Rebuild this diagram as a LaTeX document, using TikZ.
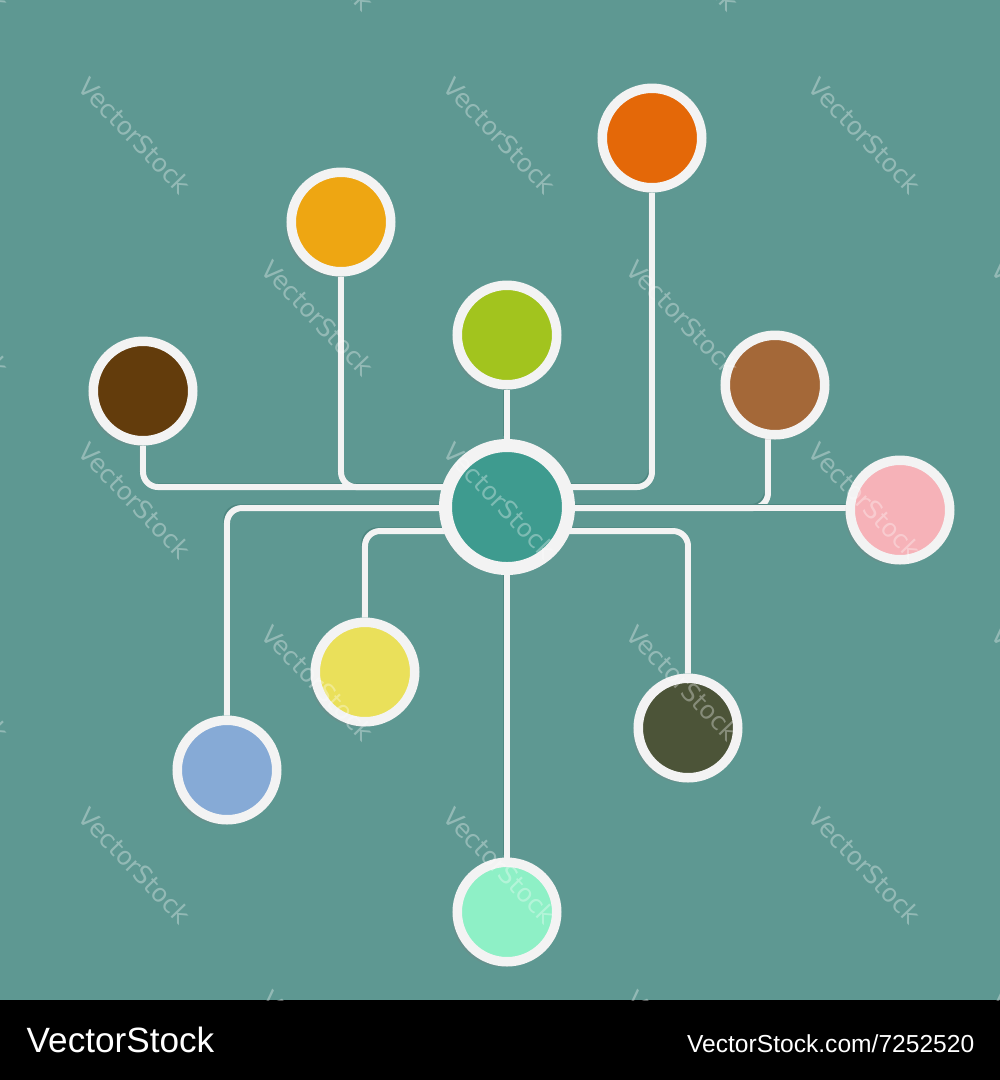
\documentclass[tikz,border=0pt]{standalone}
\usepackage{fontspec}
\setmainfont{Liberation Sans}
\newfontfamily\stampfont{DejaVu Sans}
\usetikzlibrary{shadows}

\newlength{\du}
\setlength{\du}{0.1mm}

\definecolor{bgteal}{RGB}{94,152,146}
\definecolor{wireshade}{RGB}{78,134,128}
\definecolor{ringwhite}{RGB}{243,243,243}
\definecolor{cHub}{RGB}{62,155,143}
\definecolor{cDarkbrown}{RGB}{99,60,12}
\definecolor{cAmber}{RGB}{238,166,18}
\definecolor{cOrange}{RGB}{228,104,8}
\definecolor{cLime}{RGB}{162,196,30}
\definecolor{cBrown}{RGB}{164,104,56}
\definecolor{cPink}{RGB}{246,178,184}
\definecolor{cYellow}{RGB}{234,224,90}
\definecolor{cBlue}{RGB}{134,170,214}
\definecolor{cOlive}{RGB}{76,84,56}
\definecolor{cMint}{RGB}{142,240,198}

\pgfdeclarelayer{bg}
\pgfdeclarelayer{wires}
\pgfsetlayers{bg,wires,main}

\tikzset{
  dot/.style={circle, inner sep=0pt, fill=#1, draw=ringwhite,
    line width=9.5\du, minimum size=99.5\du,
    drop shadow={shadow xshift=-5\du, shadow yshift=-5\du, opacity=.25}},
  hubdot/.style={dot=cHub, line width=13\du, minimum size=123\du},
  wire/.style={draw=ringwhite, line width=6\du, rounded corners=15\du,
    preaction={draw=wireshade, transform canvas={shift={(-3\du,3\du)}}}},
  stamp/.style={text=white, opacity=.33, rotate=-46, inner sep=0pt,
    font=\stampfont\fontsize{7.1}{8}\selectfont},
  footer/.style={text=white, inner sep=0pt},
}

\begin{document}
\begin{tikzpicture}
\pgftransformyscale{-1.000000}
% backdrop and footer bar
\begin{pgfonlayer}{bg}
\fill[bgteal] (0\du,0\du) rectangle (1000\du,1000\du);
\fill[black] (0\du,1000\du) rectangle (1000\du,1080\du);
\end{pgfonlayer}
% dots
\node[hubdot] (hub) at (507\du,507\du) {};
\node[dot=cDarkbrown] (darkbrown) at (143\du,391\du) {};
\node[dot=cAmber] (amber) at (341\du,222\du) {};
\node[dot=cOrange] (orange) at (652\du,138\du) {};
\node[dot=cLime] (lime) at (507\du,335\du) {};
\node[dot=cBrown] (brown) at (775\du,385\du) {};
\node[dot=cPink] (pink) at (900\du,510\du) {};
\node[dot=cYellow] (yellow) at (365\du,672\du) {};
\node[dot=cBlue] (blue) at (227\du,770\du) {};
\node[dot=cOlive] (olive) at (688\du,728\du) {};
\node[dot=cMint] (mint) at (507\du,912\du) {};
\coordinate (hubhi) at (507\du,487\du);
\coordinate (hubmid) at (507\du,508\du);
\coordinate (hublo) at (507\du,531\du);
\coordinate (brownfoot) at (768\du,438\du);
% wires
\begin{pgfonlayer}{wires}
\draw[wire] (darkbrown) |- (hubhi);
\draw[wire] (amber) |- (hubhi);
\draw[wire] (orange) |- (hubhi);
\draw[wire] (lime) -- (hub);
\draw[wire] (brownfoot) |- (hubmid);
\draw[wire] (hubmid) -- (hubmid -| pink);
\draw[wire] (blue) |- (hubmid);
\draw[wire] (yellow) |- (hublo);
\draw[wire] (olive) |- (hublo);
\draw[wire] (mint) -- (hub);
\end{pgfonlayer}
% watermark
\begin{scope}
\clip (0\du,0\du) rectangle (1000\du,1000\du);
\foreach \row in {0,...,6}{
  \foreach \col in {0,...,3}{
    \pgfmathsetmacro\wx{(mod(\row,2)==0 ? 318 : 135) - 365 + 365*\col}
    \pgfmathsetmacro\wy{-47 + 182.5*\row}
    \node[stamp] (wm\row\col) at (\wx\du,\wy\du) {VectorStock};
  }
}
\end{scope}
% footer text
\node[footer, anchor=base west, font=\fontsize{10}{12}\selectfont] (brand) at (26\du,1052\du) {VectorStock};
\node[footer, anchor=base east, font=\fontsize{7}{9}\selectfont] (link) at (975\du,1052\du) {VectorStock.com/7252520};
\end{tikzpicture}
\end{document}
